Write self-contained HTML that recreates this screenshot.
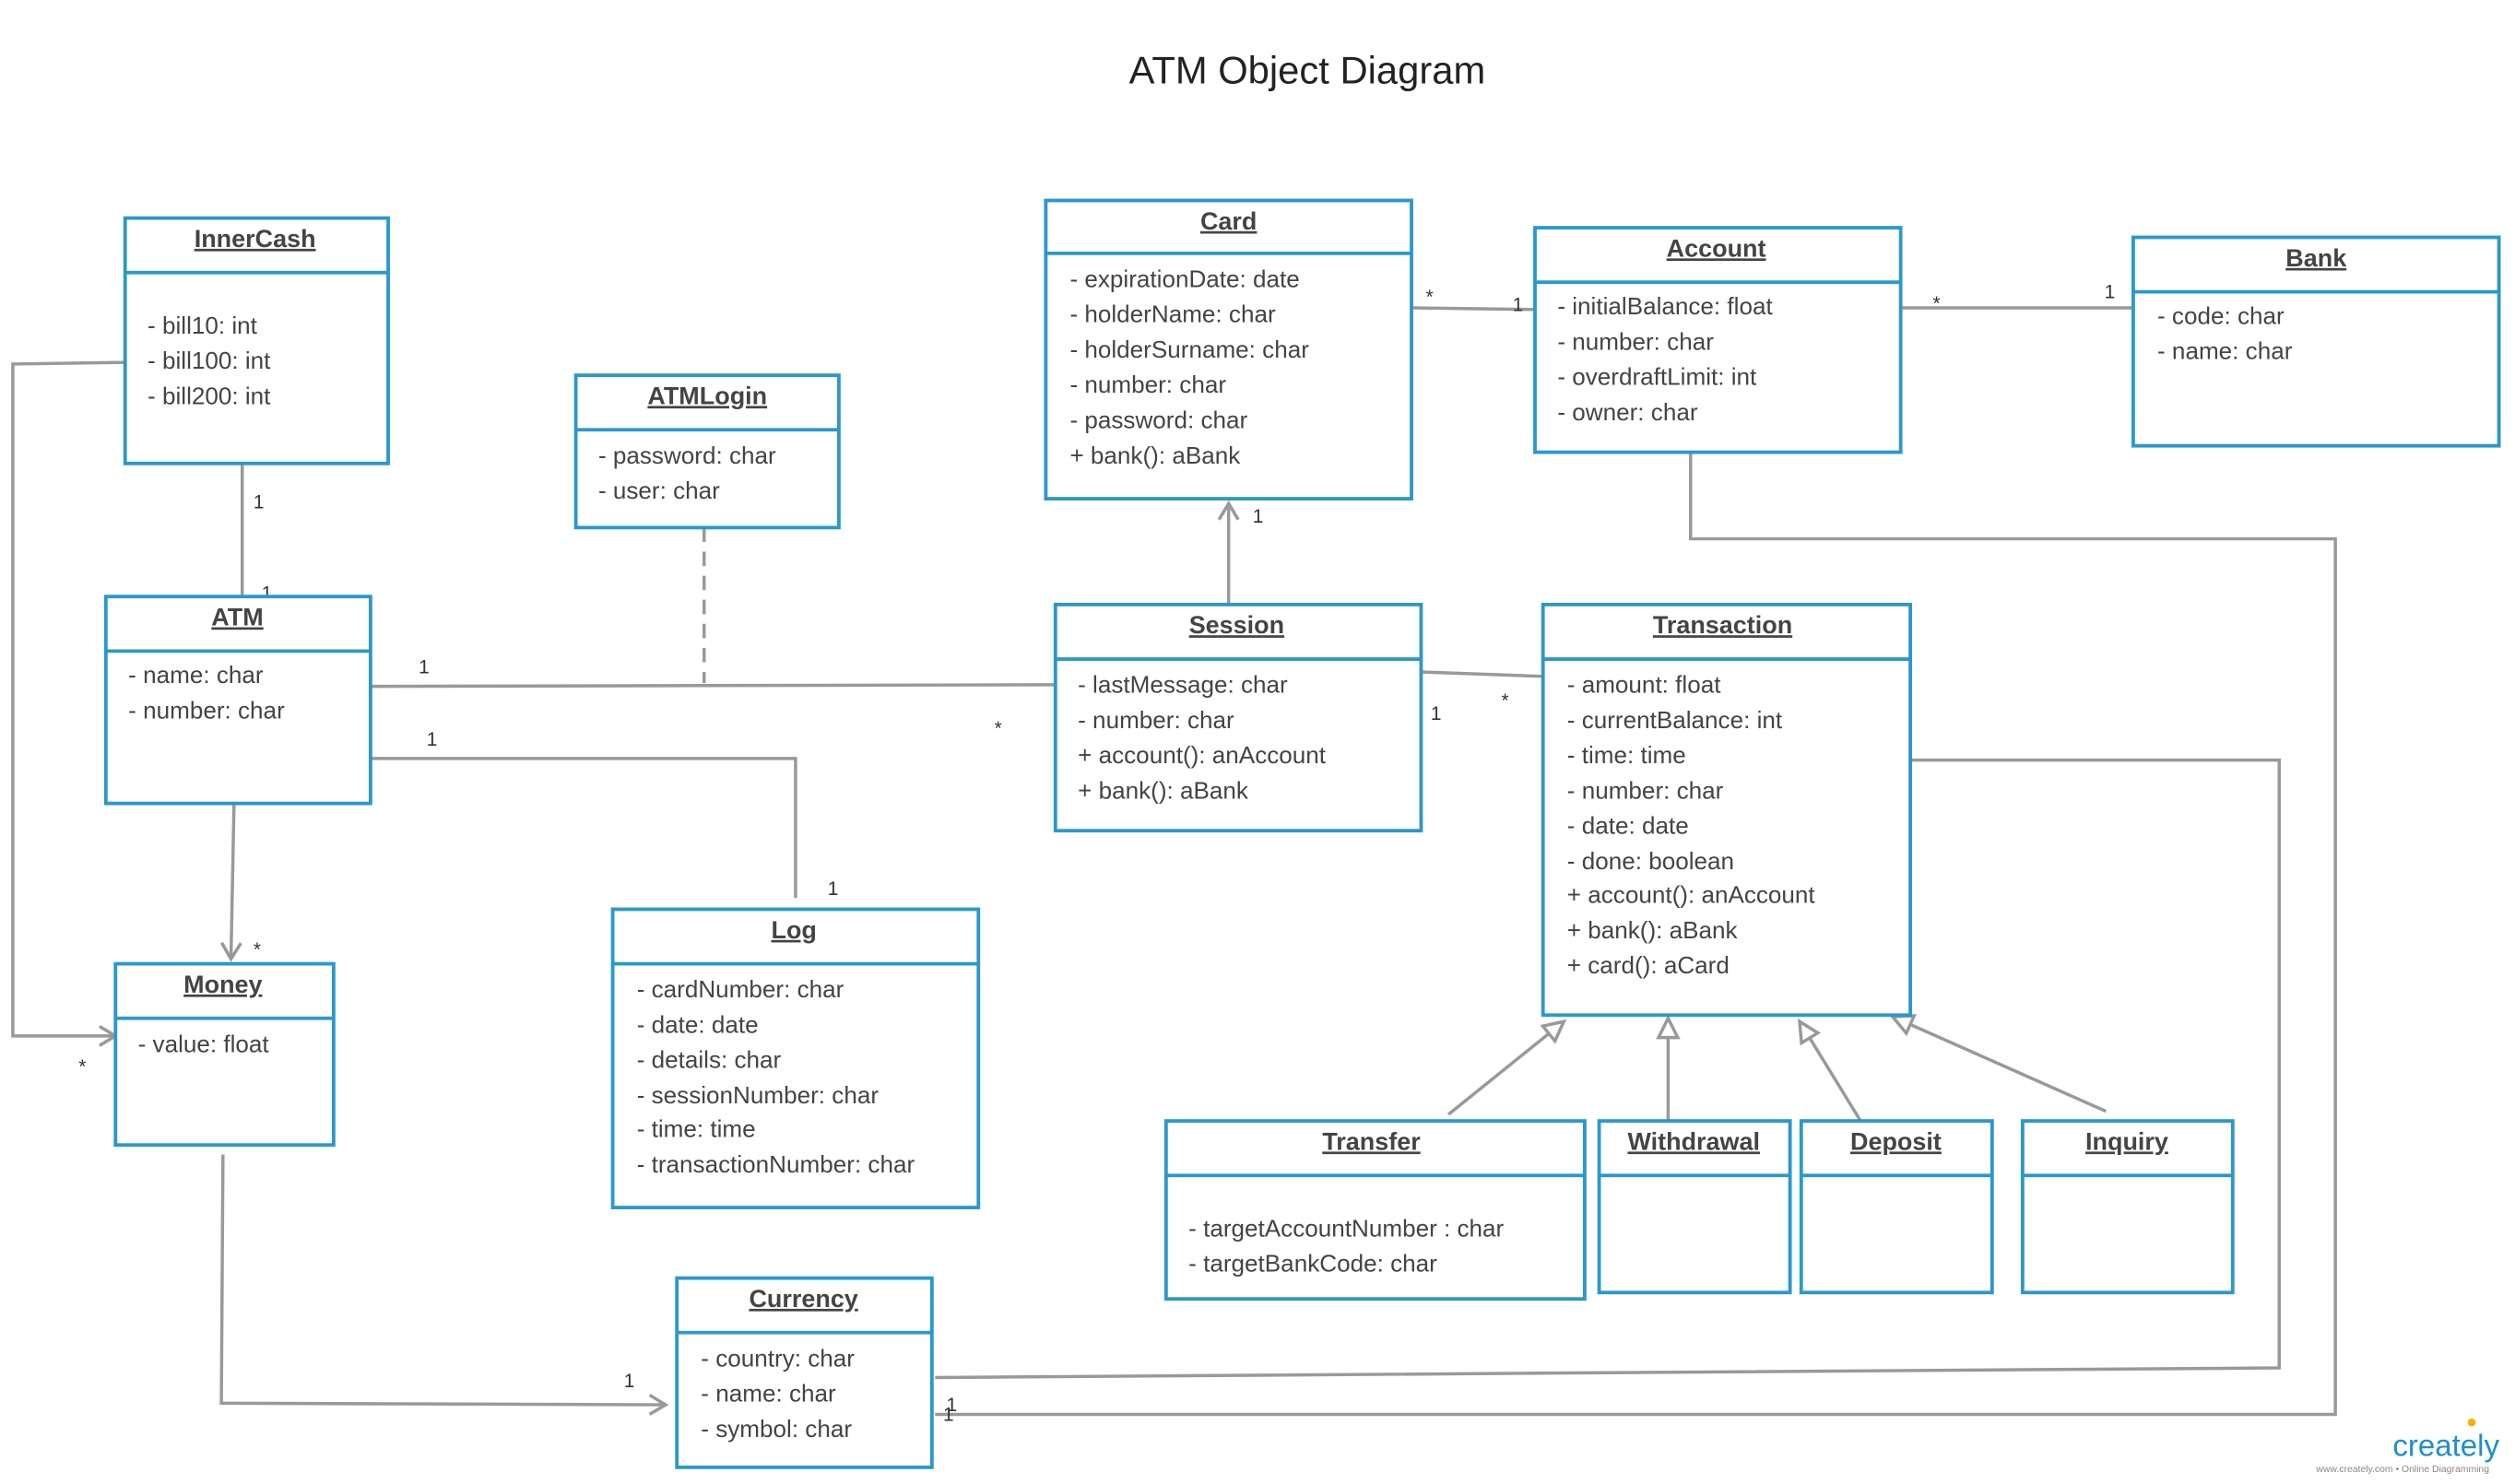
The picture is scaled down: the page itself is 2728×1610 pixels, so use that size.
<!DOCTYPE html>
<html><head><meta charset="utf-8"><style>
html,body{margin:0;padding:0;background:#fff;}
svg{display:block;}
text{font-family:"Liberation Sans",sans-serif;}
.b{fill:#fff;stroke:#2b98cc;stroke-width:2.2;}
.h{stroke:#2b98cc;stroke-width:2.2;}
.t{font-size:15px;fill:#444;}
.n{font-size:15.5px;fill:#444;font-weight:bold;text-decoration:underline;}
.l{fill:none;stroke:#999;stroke-width:2;}
.m{font-size:12px;fill:#333;}
</style></head><body>
<svg width="2728" height="1610" viewBox="0 0 1568 925.4" xmlns="http://www.w3.org/2000/svg">
<defs>
<marker id="ar" markerWidth="14" markerHeight="14" refX="11" refY="7" orient="auto" markerUnits="userSpaceOnUse"><path d="M1,1 L11,7 L1,13" fill="none" stroke="#999" stroke-width="2"/></marker>
<marker id="tri" markerWidth="16" markerHeight="16" refX="13" refY="8" orient="auto" markerUnits="userSpaceOnUse"><path d="M1,2 L13,8 L1,14 Z" fill="#fff" stroke="#999" stroke-width="2"/></marker>
</defs>
<text x="815" y="52" text-anchor="middle" font-size="24" fill="#222">ATM Object Diagram</text>

<!-- connectors -->
<path class="l" d="M151,289 V372"/>
<path class="l" d="M78,226 L8,227 V646 H72" marker-end="url(#ar)"/>
<path class="l" d="M231,428 L658,427"/>
<path class="l" d="M439,329 V426" stroke-dasharray="9,6"/>
<path class="l" d="M226,468 V473 H496 V560"/>
<path class="l" d="M146,496 L144,598" marker-end="url(#ar)"/>
<path class="l" d="M766,377 V314" marker-end="url(#ar)"/>
<path class="l" d="M880,192 L957,193"/>
<path class="l" d="M1185,192 H1330"/>
<path class="l" d="M886,419 L968,422"/>
<path class="l" d="M1054,280 V336 H1456 V882 H583"/>
<path class="l" d="M1188,474 H1421 V853 L583,859"/>
<path class="l" d="M139,720 L138,875 L415,876" marker-end="url(#ar)"/>
<path class="l" d="M903,695 L975,637" marker-end="url(#tri)"/>
<path class="l" d="M1040,699 V635" marker-end="url(#tri)"/>
<path class="l" d="M1160,699 L1122,637" marker-end="url(#tri)"/>
<path class="l" d="M1313,693 L1180,634" marker-end="url(#tri)"/>

<text class="m" x="158" y="317">1</text><text class="m" x="163" y="374">1</text>
<text class="m" x="49" y="669">*</text>
<text class="m" x="261" y="420">1</text><text class="m" x="620" y="458">*</text>
<text class="m" x="266" y="465">1</text><text class="m" x="516" y="558">1</text>
<text class="m" x="158" y="596">*</text>
<text class="m" x="781" y="326">1</text>
<text class="m" x="889" y="189">*</text><text class="m" x="943" y="194">1</text>
<text class="m" x="1205" y="193">*</text><text class="m" x="1312" y="186">1</text>
<text class="m" x="892" y="449">1</text><text class="m" x="936" y="441">*</text>
<text class="m" x="588" y="886">1</text><text class="m" x="590" y="880">1</text>
<text class="m" x="389" y="865">1</text>

<!-- InnerCash -->
<rect class="b" x="78" y="136" width="164" height="153"/><line class="h" x1="78" y1="170" x2="242" y2="170"/>
<text class="n" x="159" y="154" text-anchor="middle">InnerCash</text>
<text class="t" x="92" y="208">- bill10: int</text><text class="t" x="92" y="230">- bill100: int</text><text class="t" x="92" y="252">- bill200: int</text>
<!-- ATMLogin -->
<rect class="b" x="359" y="234" width="164" height="95"/><line class="h" x1="359" y1="268" x2="523" y2="268"/>
<text class="n" x="441" y="252" text-anchor="middle">ATMLogin</text>
<text class="t" x="373" y="289">- password: char</text><text class="t" x="373" y="311">- user: char</text>
<!-- Card -->
<rect class="b" x="652" y="125" width="228" height="186"/><line class="h" x1="652" y1="158" x2="880" y2="158"/>
<text class="n" x="766" y="143" text-anchor="middle">Card</text>
<text class="t" x="667" y="179">- expirationDate: date</text><text class="t" x="667" y="201">- holderName: char</text><text class="t" x="667" y="223">- holderSurname: char</text><text class="t" x="667" y="245">- number: char</text><text class="t" x="667" y="267">- password: char</text><text class="t" x="667" y="289">+ bank(): aBank</text>
<!-- Account -->
<rect class="b" x="957" y="142" width="228" height="140"/><line class="h" x1="957" y1="176" x2="1185" y2="176"/>
<text class="n" x="1070" y="160" text-anchor="middle">Account</text>
<text class="t" x="971" y="196">- initialBalance: float</text><text class="t" x="971" y="218">- number: char</text><text class="t" x="971" y="240">- overdraftLimit: int</text><text class="t" x="971" y="262">- owner: char</text>
<!-- Bank -->
<rect class="b" x="1330" y="148" width="228" height="130"/><line class="h" x1="1330" y1="182" x2="1558" y2="182"/>
<text class="n" x="1444" y="166" text-anchor="middle">Bank</text>
<text class="t" x="1345" y="202">- code: char</text><text class="t" x="1345" y="224">- name: char</text>
<!-- ATM -->
<rect class="b" x="66" y="372" width="165" height="129"/><line class="h" x1="66" y1="406" x2="231" y2="406"/>
<text class="n" x="148" y="390" text-anchor="middle">ATM</text>
<text class="t" x="80" y="426">- name: char</text><text class="t" x="80" y="448">- number: char</text>
<!-- Session -->
<rect class="b" x="658" y="377" width="228" height="141"/><line class="h" x1="658" y1="411" x2="886" y2="411"/>
<text class="n" x="771" y="395" text-anchor="middle">Session</text>
<text class="t" x="672" y="432">- lastMessage: char</text><text class="t" x="672" y="454">- number: char</text><text class="t" x="672" y="476">+ account(): anAccount</text><text class="t" x="672" y="498">+ bank(): aBank</text>
<!-- Transaction -->
<rect class="b" x="962" y="377" width="229" height="256"/><line class="h" x1="962" y1="411" x2="1191" y2="411"/>
<text class="n" x="1074" y="395" text-anchor="middle">Transaction</text>
<text class="t" x="977" y="432">- amount: float</text><text class="t" x="977" y="454">- currentBalance: int</text><text class="t" x="977" y="476">- time: time</text><text class="t" x="977" y="498">- number: char</text><text class="t" x="977" y="520">- date: date</text><text class="t" x="977" y="542">- done: boolean</text><text class="t" x="977" y="563">+ account(): anAccount</text><text class="t" x="977" y="585">+ bank(): aBank</text><text class="t" x="977" y="607">+ card(): aCard</text>
<!-- Money -->
<rect class="b" x="72" y="601" width="136" height="113"/><line class="h" x1="72" y1="635" x2="208" y2="635"/>
<text class="n" x="139" y="619" text-anchor="middle">Money</text>
<text class="t" x="86" y="656">- value: float</text>
<!-- Log -->
<rect class="b" x="382" y="567" width="228" height="186"/><line class="h" x1="382" y1="601" x2="610" y2="601"/>
<text class="n" x="495" y="585" text-anchor="middle">Log</text>
<text class="t" x="397" y="622">- cardNumber: char</text><text class="t" x="397" y="644">- date: date</text><text class="t" x="397" y="666">- details: char</text><text class="t" x="397" y="688">- sessionNumber: char</text><text class="t" x="397" y="709">- time: time</text><text class="t" x="397" y="731">- transactionNumber: char</text>
<!-- Transfer etc -->
<rect class="b" x="727" y="699" width="261" height="111"/><line class="h" x1="727" y1="733" x2="988" y2="733"/>
<text class="n" x="855" y="717" text-anchor="middle">Transfer</text>
<text class="t" x="741" y="771">- targetAccountNumber : char</text><text class="t" x="741" y="793">- targetBankCode: char</text>
<rect class="b" x="997" y="699" width="119" height="107"/><line class="h" x1="997" y1="733" x2="1116" y2="733"/>
<text class="n" x="1056" y="717" text-anchor="middle">Withdrawal</text>
<rect class="b" x="1123" y="699" width="119" height="107"/><line class="h" x1="1123" y1="733" x2="1242" y2="733"/>
<text class="n" x="1182" y="717" text-anchor="middle">Deposit</text>
<rect class="b" x="1261" y="699" width="131" height="107"/><line class="h" x1="1261" y1="733" x2="1392" y2="733"/>
<text class="n" x="1326" y="717" text-anchor="middle">Inquiry</text>
<!-- Currency -->
<rect class="b" x="422" y="797" width="159" height="118"/><line class="h" x1="422" y1="831" x2="581" y2="831"/>
<text class="n" x="501" y="815" text-anchor="middle">Currency</text>
<text class="t" x="437" y="852">- country: char</text><text class="t" x="437" y="874">- name: char</text><text class="t" x="437" y="896">- symbol: char</text>
<!-- logo -->
<text x="1525" y="908" text-anchor="middle" font-size="19" fill="#1a8fd1">creately</text>
<circle cx="1541" cy="887" r="2.5" fill="#f5b400"/>
<text x="1498" y="918" text-anchor="middle" font-size="6" fill="#888">www.creately.com • Online Diagramming</text>
</svg>
</body></html>
